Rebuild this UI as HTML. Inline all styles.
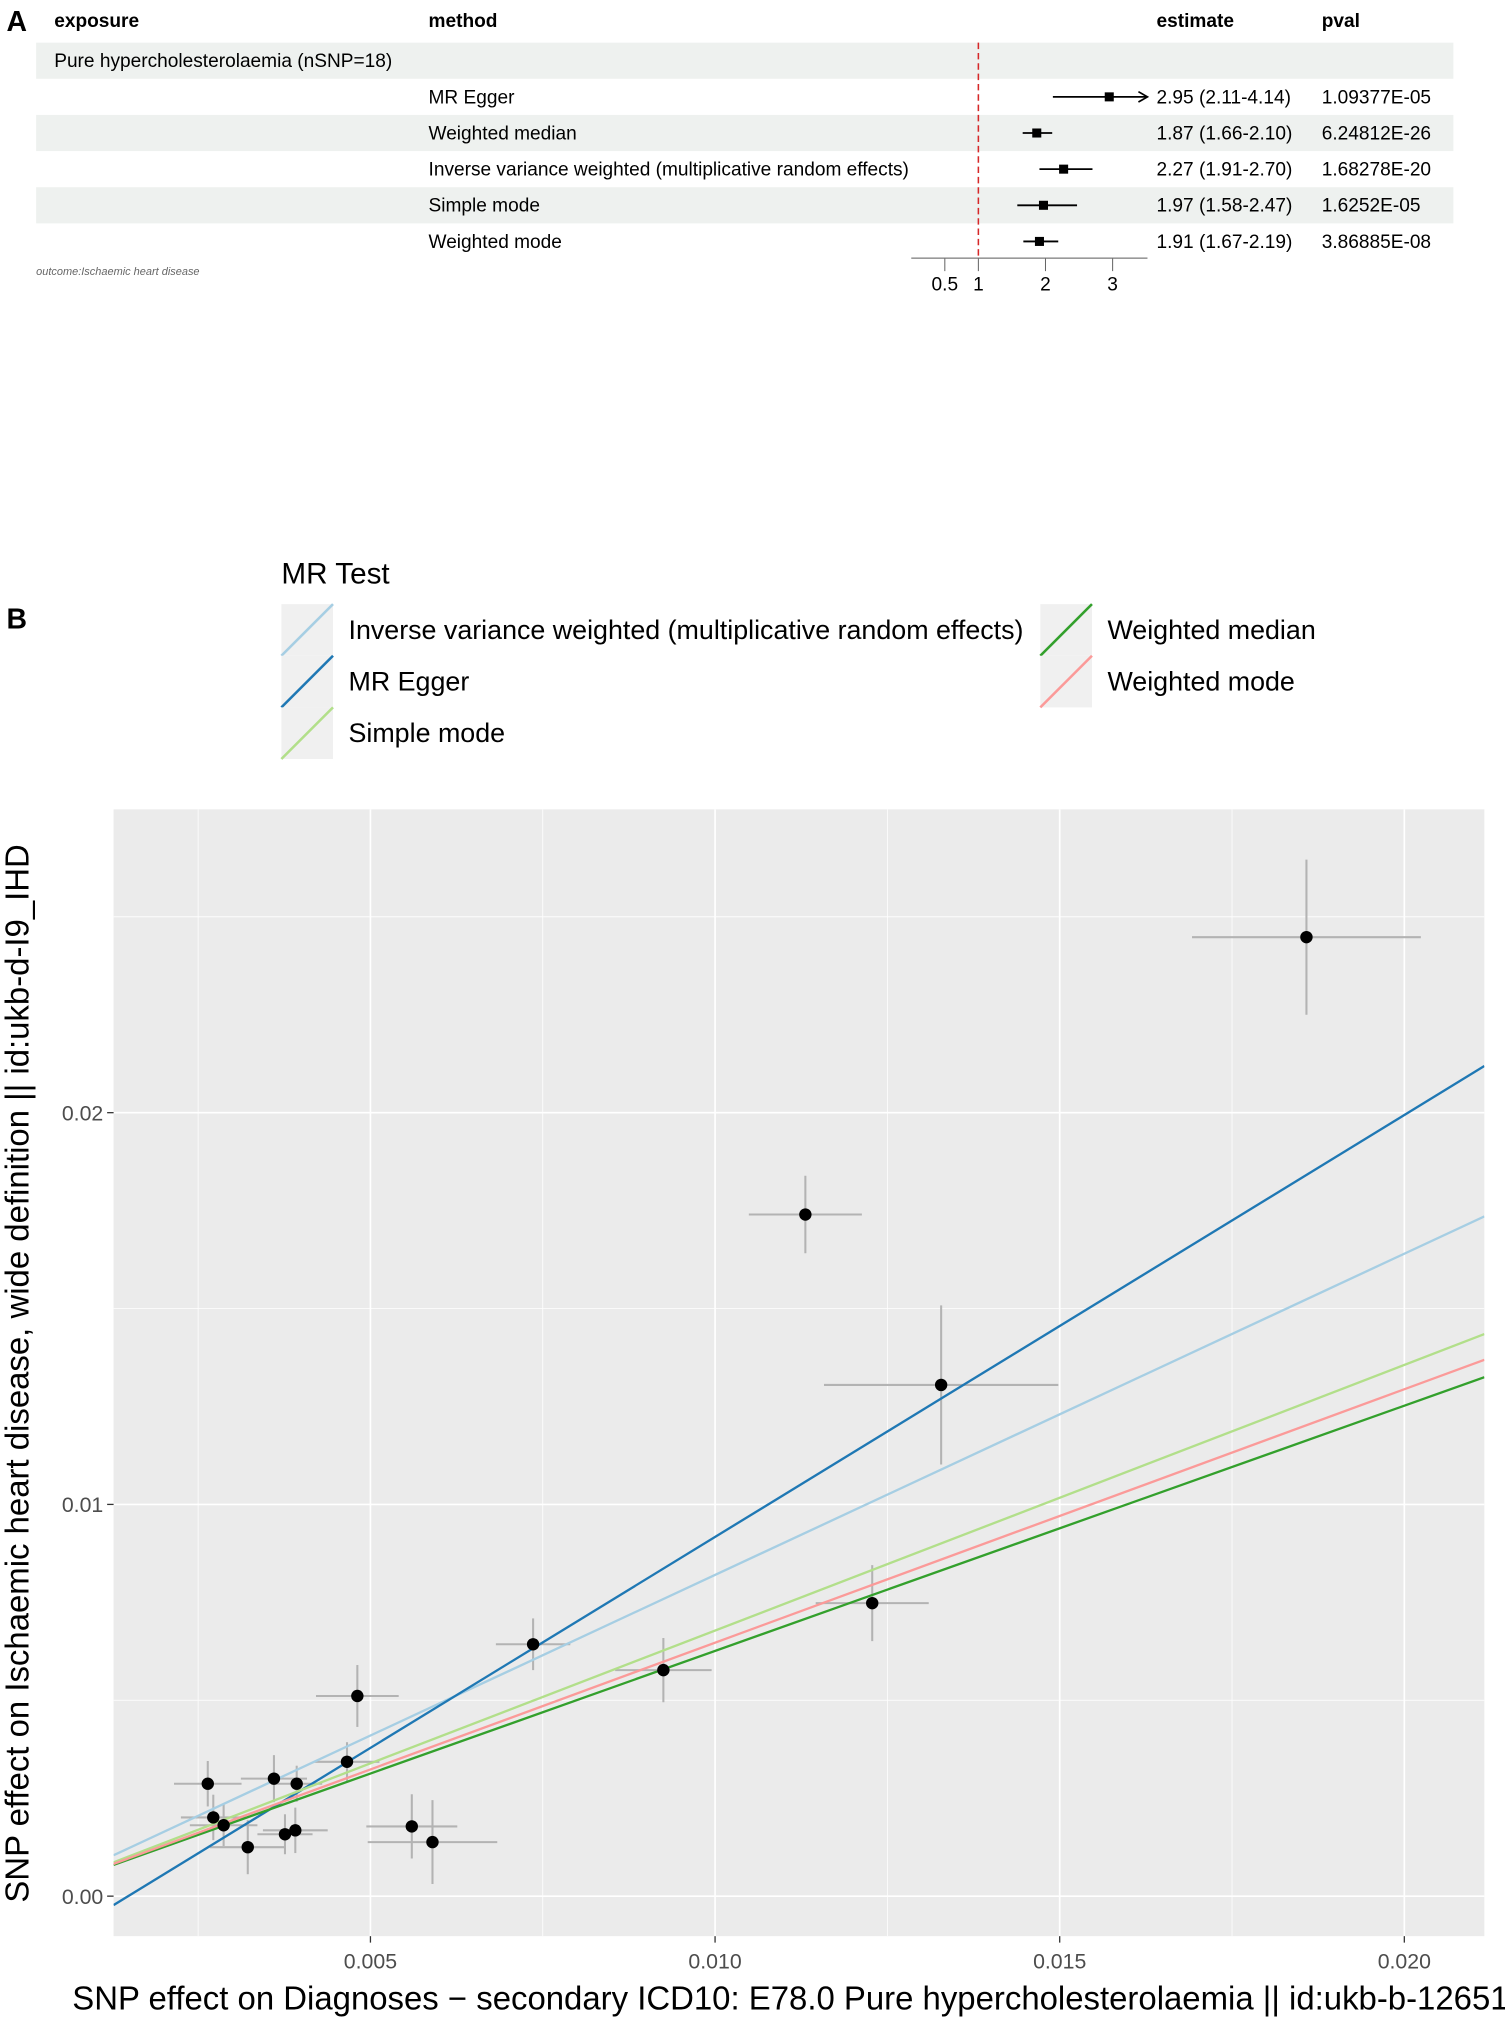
<!DOCTYPE html>
<html><head><meta charset="utf-8"><style>
html,body{margin:0;padding:0;background:#fff;}
svg{display:block;font-family:"Liberation Sans",Arial,sans-serif;}
</style></head><body>
<svg id="fig" width="1505" height="2024" viewBox="0 0 1166 1568" xmlns="http://www.w3.org/2000/svg">
<g id="panelA"></g>
<g id="panelB"></g>
</svg>
<script>
// ---------- Panel A data ----------
const methods = ["MR Egger","Weighted median","Inverse variance weighted (multiplicative random effects)","Simple mode","Weighted mode"];
const orEst = [2.95,1.87,2.27,1.97,1.91];
const orLo = [2.11,1.66,1.91,1.58,1.67];
const orHi = [4.14,2.10,2.70,2.47,2.19];
const pvals = ["1.09377E-05","6.24812E-26","1.68278E-20","1.6252E-05","3.86885E-08"];
const forestTicks = [0.5,1,2,3];

// ---------- Panel B data ----------
const snpX = [0.01858,0.01131,0.01328,0.01228,0.00925,0.00736,0.00481,0.00466,0.00264,0.00360,0.00393,0.00272,0.00287,0.00322,0.00376,0.00391,0.00560,0.00590];
const snpY = [0.02448,0.01740,0.01305,0.00748,0.00577,0.00643,0.00511,0.00343,0.00287,0.00300,0.00287,0.00201,0.00181,0.00125,0.00158,0.00168,0.00178,0.00138];
const snpXse = [0.00166,0.00082,0.00170,0.00082,0.00070,0.00054,0.00060,0.00047,0.00049,0.00048,0.00037,0.00047,0.00049,0.00055,0.00040,0.00047,0.00066,0.00094];
const snpYse = [0.00198,0.00099,0.00203,0.00097,0.00082,0.00066,0.00079,0.00050,0.00058,0.00060,0.00046,0.00058,0.00053,0.00069,0.00051,0.00058,0.00082,0.00107];
const lineNames = ["Inverse variance weighted (multiplicative random effects)","MR Egger","Simple mode","Weighted median","Weighted mode"];
const lineSlopes = [0.820,1.077,0.678,0.626,0.647];
const lineIntercepts = [0,-0.00160,0,0,0];
const lineColors = ["#a6cee3","#1f78b4","#b2df8a","#33a02c","#fb9a99"];
const xTicks = [0.005,0.010,0.015,0.020];
const xTickLabels = ["0.005","0.010","0.015","0.020"];
const yTicks = [0.00,0.01,0.02];
const yTickLabels = ["0.00","0.01","0.02"];

const NS="http://www.w3.org/2000/svg";
function mk(tag, attrs, parent, text){
  const e=document.createElementNS(NS,tag);
  for(const k in attrs) e.setAttribute(k,attrs[k]);
  if(text!==undefined) e.textContent=text;
  parent.appendChild(e); return e;
}
const FA=14.8;

// ===== Panel A =====
const A=document.getElementById('panelA');
let t=mk('text',{x:5,y:24,'font-size':22,'font-weight':'bold'},A,'A');


[[33,61],[89,117],[145,173]].forEach(function(b){
  const r=mk('rect',{x:28,y:b[0],width:1098,height:b[1]-b[0],fill:'#eef1ef'},A);
  
  
});
const hdr=[["exposure",42],["method",332],["estimate",896],["pval",1024]];
hdr.forEach(function(h){
  const e=mk('text',{x:h[1],y:21,'font-size':FA,'font-weight':'bold'},A,h[0]);
  
  
});
t=mk('text',{x:42,y:52,'font-size':FA},A,'Pure hypercholesterolaemia (nSNP=18)');


const fx=v=>758+(v-1)*52;
const fxMax=889;
const ref=mk('line',{x1:758,y1:33,x2:758,y2:200,stroke:'#d62728','stroke-width':1.2,'stroke-dasharray':'5,3'},A);


methods.forEach(function(m,i){
  const cy=75+i*28;
  let e=mk('text',{x:332,y:cy+5,'font-size':FA},A,m);
  
  
  const x1=fx(orLo[i]), x2raw=fx(orHi[i]), x2=Math.min(x2raw,fxMax);
  e=mk('line',{x1:x1,y1:cy,x2:x2,y2:cy,stroke:'#000','stroke-width':1.4},A);
  
  
  if(x2raw>fxMax){
    e=mk('path',{d:'M'+(fxMax-7)+' '+(cy-4)+' L'+fxMax+' '+cy+' L'+(fxMax-7)+' '+(cy+4),fill:'none',stroke:'#000','stroke-width':1.3},A);
    
    
  }
  e=mk('rect',{x:fx(orEst[i])-3.5,y:cy-3.5,width:7,height:7,fill:'#000'},A);
  
  
  e=mk('text',{x:896,y:cy+5,'font-size':FA},A,orEst[i].toFixed(2)+' ('+orLo[i].toFixed(2)+'-'+orHi[i].toFixed(2)+')');
  
  
  e=mk('text',{x:1024,y:cy+5,'font-size':FA},A,pvals[i]);
  
  
});
t=mk('line',{x1:706,y1:200,x2:889,y2:200,stroke:'#999','stroke-width':1.3},A);


forestTicks.forEach(function(v){
  let e=mk('line',{x1:fx(v),y1:200,x2:fx(v),y2:210,stroke:'#666','stroke-width':0.8},A);
  
  
  e=mk('text',{x:fx(v),y:225,'font-size':FA,'text-anchor':'middle'},A,String(v));
  
  
});
t=mk('text',{x:28,y:213,'font-size':8.5,'font-style':'italic',fill:'#666'},A,'outcome:Ischaemic heart disease');



// ===== Panel B =====
const B=document.getElementById('panelB');
t=mk('text',{x:5,y:487,'font-size':22,'font-weight':'bold'},B,'B');


t=mk('text',{x:218,y:452,'font-size':23},B,'MR Test');


const legPos=[[218,468],[218,508],[218,548],[806,468],[806,508]];
const legOrder=[0,1,2,3,4];
legOrder.forEach(function(li,k){
  const p=legPos[k];
  const g=mk('g',{},B);
  
  
  mk('rect',{x:p[0],y:p[1],width:40,height:40,fill:'#f0f0f0'},g);
  mk('line',{x1:p[0],y1:p[1]+40,x2:p[0]+40,y2:p[1],stroke:lineColors[li],'stroke-width':2},g);
  mk('text',{x:p[0]+52,y:p[1]+27,'font-size':20.8},g,lineNames[li]);
});

const L=88,R=1150,T=627,Bt=1500;
const sx=v=>287+(v-0.005)*53400;
const sy=v=>1469-v*30350;
const xmin=(L-287)/53400+0.005, xmax=(R-287)/53400+0.005;
t=mk('rect',{x:L,y:T,width:R-L,height:Bt-T,fill:'#ebebeb'},B);


const clip=mk('clipPath',{id:'pc'},B); mk('rect',{x:L,y:T,width:R-L,height:Bt-T},clip);
const P=mk('g',{'clip-path':'url(#pc)'},B);
for(let v=0.0025;v<0.022;v+=0.005){
  const e=mk('line',{x1:sx(v),y1:T,x2:sx(v),y2:Bt,stroke:'#fff','stroke-width':0.6},P);
  
  
}
for(let v=0.005;v<0.03;v+=0.01){
  const e=mk('line',{x1:L,y1:sy(v),x2:R,y2:sy(v),stroke:'#fff','stroke-width':0.6},P);
  
  
}
xTicks.forEach(function(v){
  const e=mk('line',{x1:sx(v),y1:T,x2:sx(v),y2:Bt,stroke:'#fff','stroke-width':1.3},P);
  
  
});
yTicks.forEach(function(v){
  const e=mk('line',{x1:L,y1:sy(v),x2:R,y2:sy(v),stroke:'#fff','stroke-width':1.3},P);
  
  
});
snpX.forEach(function(x,i){
  let e=mk('line',{x1:sx(x-snpXse[i]),y1:sy(snpY[i]),x2:sx(x+snpXse[i]),y2:sy(snpY[i]),stroke:'#b3b3b3','stroke-width':1.6},P);
  
  
  e=mk('line',{x1:sx(x),y1:sy(snpY[i]-snpYse[i]),x2:sx(x),y2:sy(snpY[i]+snpYse[i]),stroke:'#b3b3b3','stroke-width':1.6},P);
  
  
});
lineSlopes.forEach(function(s,i){
  const e=mk('line',{x1:sx(xmin),y1:sy(lineIntercepts[i]+s*xmin),x2:sx(xmax),y2:sy(lineIntercepts[i]+s*xmax),stroke:lineColors[i],'stroke-width':1.8},P);
  
  
});
snpX.forEach(function(x,i){
  const e=mk('circle',{cx:sx(x),cy:sy(snpY[i]),r:4.8,fill:'#000'},P);
  
  
});
xTicks.forEach(function(v,i){
  let e=mk('line',{x1:sx(v),y1:Bt,x2:sx(v),y2:Bt+5,stroke:'#333','stroke-width':1},B);
  
  
  e=mk('text',{x:sx(v),y:Bt+25,'font-size':16.5,fill:'#4d4d4d','text-anchor':'middle'},B,xTickLabels[i]);
  
  
});
yTicks.forEach(function(v,i){
  let e=mk('line',{x1:L-5,y1:sy(v),x2:L,y2:sy(v),stroke:'#333','stroke-width':1},B);
  
  
  e=mk('text',{x:L-8,y:sy(v)+6,'font-size':16.5,fill:'#4d4d4d','text-anchor':'end'},B,yTickLabels[i]);
  
  
});
t=mk('text',{x:56,y:1557,'font-size':25.5},B,'SNP effect on Diagnoses \u2212 secondary ICD10: E78.0 Pure hypercholesterolaemia || id:ukb-b-12651');


t=mk('text',{x:0,y:0,'font-size':25.5,'text-anchor':'middle',transform:'translate(22,1064) rotate(-90)'},B,'SNP effect on Ischaemic heart disease, wide definition || id:ukb-d-I9_IHD');


</script>
</body></html>
